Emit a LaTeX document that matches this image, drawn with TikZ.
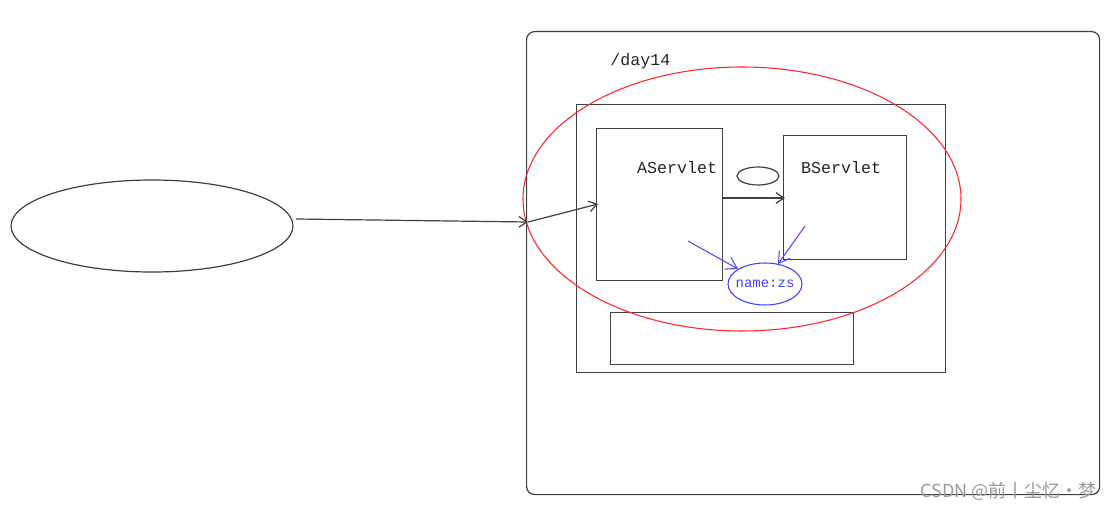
\documentclass[tikz,border=0pt]{standalone}
\usepackage{fontspec}
\setmonofont{Liberation Mono}
\newfontfamily\cjk{Noto Sans CJK SC}
\usetikzlibrary{arrows.meta}
\begin{document}
\begin{tikzpicture}[x=0.75pt,y=-0.75pt,
  line/.style={draw=black!75, line width=0.9pt},
  arr/.style={line, -{Straight Barb[length=6pt,width=8pt]}},
  barr/.style={draw=blue!70, line width=0.8pt, -{Straight Barb[length=8pt,width=10pt]}},
  lbl/.style={font=\ttfamily\fontsize{12.5}{14}\selectfont, text=black!85, inner sep=0pt},
  box/.style={line, rectangle, inner sep=0pt}
]
\useasboundingbox (0,0) rectangle (1110,509);
% outer rounded box
\node[box, rounded corners=6pt, minimum width=573*0.75pt, minimum height=463*0.75pt, anchor=north west] (outer) at (526,31) {};
\node[lbl, anchor=west] (day) at (610,61) {/day14};
% inner box
\node[box, minimum width=369*0.75pt, minimum height=268*0.75pt, anchor=north west] (inner) at (576,104) {};
% servlets
\node[box, minimum width=126*0.75pt, minimum height=152*0.75pt, anchor=north west] (A) at (596,128) {};
\node[box, minimum width=123*0.75pt, minimum height=124*0.75pt, anchor=north west] (B) at (783,135) {};
\node[lbl] (At) at (677,168) {AServlet};
\node[lbl] (Bt) at (841,168) {BServlet};
% small ellipse
\draw[line] (758,176) ellipse (21 and 9);
\node[inner sep=0pt] (small) at (758,176) {};
% bottom box
\node[box, minimum width=243*0.75pt, minimum height=52*0.75pt, anchor=north west] (bottom) at (610,312) {};
% red ellipse
\draw[red!85, line width=0.8pt] (742,199) ellipse (219 and 132);
% left ellipse
\draw[line] (152,226) ellipse (141 and 46);
\node[inner sep=0pt] (client) at (152,226) {};
\coordinate (cl) at (296,219);
\coordinate (entry) at (528,222);
\coordinate (aIn) at (598,204);
\draw[arr] (cl) -- (entry);
\draw[arr] (entry) -- (aIn);
% A -> B
\coordinate (aOut) at (722,198);
\coordinate (bIn) at (785,198);
\draw[arr] (aOut) -- (bIn);
% blue ellipse
\draw[blue!75, line width=0.8pt] (765,284) ellipse (37 and 21);
\node[font=\ttfamily\fontsize{10.5}{12}\selectfont, text=blue!75, inner sep=0pt] (zs) at (765,284) {name:zs};
\coordinate (b1s) at (688,241);
\coordinate (b1e) at (738,269);
\coordinate (b2s) at (805,226);
\coordinate (b2e) at (778,264);
\draw[barr] (b1s) -- (b1e);
\draw[barr] (b2s) -- (b2e);
% watermark
\node[font=\cjk\fontsize{13.5}{15}\selectfont, text=black!40, anchor=east, inner sep=0pt] (wm) at (1097,491) {CSDN @前丨尘忆·梦};
\end{tikzpicture}
\end{document}
